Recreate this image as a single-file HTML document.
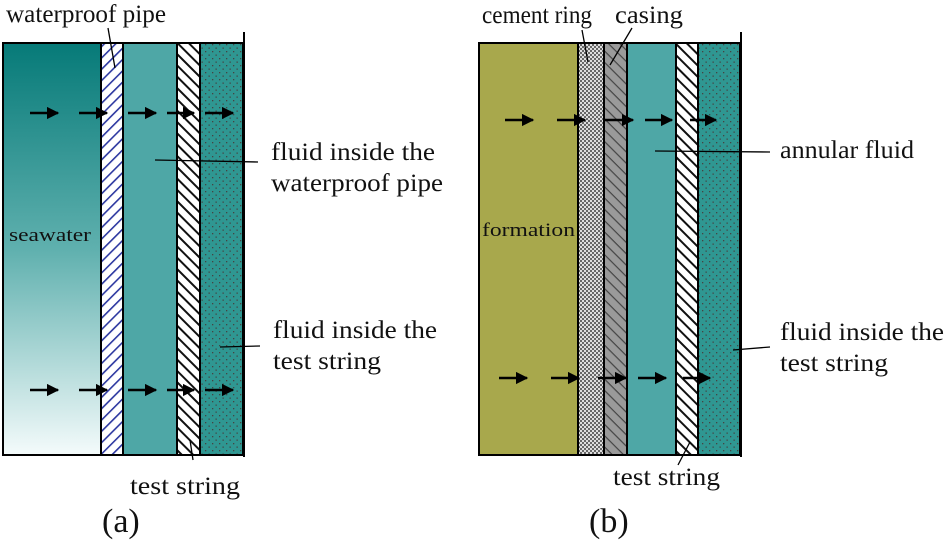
<!DOCTYPE html>
<html><head><meta charset="utf-8"><style>body{margin:0;background:#fff}svg{display:block}text{font-family:"Liberation Serif","Times New Roman",serif}</style></head><body>
<svg width="949" height="548" viewBox="0 0 949 548" xmlns="http://www.w3.org/2000/svg">
<defs>
<linearGradient id="sea" x1="0" y1="0" x2="0" y2="1"><stop offset="0" stop-color="#067a78"/><stop offset="0.5" stop-color="#5fb0ae"/><stop offset="1" stop-color="#f4fbfb"/></linearGradient>
<pattern id="bh" width="8" height="8" patternUnits="userSpaceOnUse" patternTransform="rotate(-45)"><rect width="8" height="8" fill="#fff"/><rect width="8" height="1.6" fill="#2c37a0"/></pattern>
<pattern id="kh" width="8" height="8" patternUnits="userSpaceOnUse" patternTransform="rotate(45)"><rect width="8" height="8" fill="#fff"/><rect width="8" height="2" fill="#111"/></pattern>
<pattern id="gh" width="8" height="8" patternUnits="userSpaceOnUse" patternTransform="rotate(45)"><rect width="8" height="8" fill="#9a9a9a"/><rect width="8" height="1.2" fill="#444"/></pattern>
<pattern id="ck" width="4" height="4" patternUnits="userSpaceOnUse"><rect width="4" height="4" fill="#ddd"/><rect width="2" height="2" fill="#666"/><rect x="2" y="2" width="2" height="2" fill="#666"/></pattern>
<pattern id="dt" width="7" height="7" patternUnits="userSpaceOnUse"><rect width="7" height="7" fill="#2f9792"/><rect x="2" y="2" width="1.3" height="1.3" fill="#444"/><rect x="5.5" y="5.5" width="1.3" height="1.3" fill="#444"/></pattern>
<marker id="ar" viewBox="0 0 10 10" refX="9" refY="5" markerWidth="5" markerHeight="5" markerUnits="strokeWidth" orient="auto"><path d="M0 0L10 5L0 10z" fill="#000"/></marker>
</defs>
<g stroke="#000" stroke-width="2">
<rect x="3" y="43" width="98" height="412" fill="url(#sea)"/>
<rect x="101" y="43" width="22" height="412" fill="url(#bh)"/>
<rect x="123" y="43" width="54" height="412" fill="#4ea7a6"/>
<rect x="177" y="43" width="23" height="412" fill="url(#kh)"/>
<rect x="200" y="43" width="43" height="412" fill="url(#dt)"/>
<line x1="244" y1="32" x2="244" y2="457"/>
<rect x="479" y="43" width="99" height="412" fill="#a8a84c"/>
<rect x="578" y="43" width="26" height="412" fill="url(#ck)"/>
<rect x="604" y="43" width="23" height="412" fill="url(#gh)"/>
<rect x="627" y="43" width="49" height="412" fill="#4ea7a6"/>
<rect x="676" y="43" width="22" height="412" fill="url(#kh)"/>
<rect x="698" y="43" width="42" height="412" fill="url(#dt)"/>
<line x1="741" y1="32" x2="741" y2="457"/>
</g>
<g stroke="#000" stroke-width="2.5" marker-end="url(#ar)">
<line x1="30" y1="113" x2="58" y2="113"/><line x1="79" y1="113" x2="107" y2="113"/><line x1="128" y1="113" x2="156" y2="113"/><line x1="167" y1="113" x2="194" y2="113"/><line x1="205" y1="113" x2="233" y2="113"/>
<line x1="30" y1="390" x2="58" y2="390"/><line x1="79" y1="390" x2="107" y2="390"/><line x1="128" y1="390" x2="156" y2="390"/><line x1="167" y1="390" x2="194" y2="390"/><line x1="205" y1="390" x2="233" y2="390"/>
<line x1="505" y1="120" x2="533" y2="120"/><line x1="557" y1="120" x2="585" y2="120"/><line x1="605" y1="120" x2="633" y2="120"/><line x1="645" y1="120" x2="672" y2="120"/><line x1="690" y1="120" x2="716" y2="120"/>
<line x1="499" y1="378" x2="527" y2="378"/><line x1="551" y1="378" x2="579" y2="378"/><line x1="598" y1="378" x2="626" y2="378"/><line x1="638" y1="378" x2="666" y2="378"/><line x1="683" y1="378" x2="710" y2="378"/>
</g>
<g stroke="#000" stroke-width="1.3">
<line x1="108" y1="28" x2="115" y2="68"/>
<line x1="155" y1="160" x2="258" y2="162"/>
<line x1="220" y1="347" x2="260" y2="346"/>
<line x1="190" y1="440" x2="193" y2="460"/>
<line x1="582" y1="30" x2="588" y2="62"/>
<line x1="632" y1="28" x2="610" y2="65"/>
<line x1="655" y1="151" x2="770" y2="152"/>
<line x1="733" y1="350" x2="770" y2="347"/>
<line x1="690" y1="442" x2="678" y2="465"/>
</g>
<g font-size="25" fill="#111">
<text x="6" y="22" textLength="160" lengthAdjust="spacingAndGlyphs">waterproof pipe</text>
<text x="271" y="160" textLength="164" lengthAdjust="spacingAndGlyphs">fluid inside the</text>
<text x="271" y="191" textLength="172" lengthAdjust="spacingAndGlyphs">waterproof pipe</text>
<text x="273" y="338" textLength="164" lengthAdjust="spacingAndGlyphs">fluid inside the</text>
<text x="273" y="369" textLength="108" lengthAdjust="spacingAndGlyphs">test string</text>
<text x="130" y="494" textLength="110" lengthAdjust="spacingAndGlyphs">test string</text>
<text x="482" y="23" textLength="110" lengthAdjust="spacingAndGlyphs">cement ring</text>
<text x="615" y="23" textLength="68" lengthAdjust="spacingAndGlyphs">casing</text>
<text x="780" y="158" textLength="134" lengthAdjust="spacingAndGlyphs">annular fluid</text>
<text x="780" y="340" textLength="164" lengthAdjust="spacingAndGlyphs">fluid inside the</text>
<text x="780" y="371" textLength="108" lengthAdjust="spacingAndGlyphs">test string</text>
<text x="613" y="485" textLength="107" lengthAdjust="spacingAndGlyphs">test string</text>
<text x="102" y="532" font-size="34">(a)</text>
<text x="589" y="532" font-size="34">(b)</text>
<text x="9" y="241" font-size="19" textLength="82" lengthAdjust="spacingAndGlyphs">seawater</text>
<text x="482" y="236" font-size="19" textLength="93" lengthAdjust="spacingAndGlyphs">formation</text>
</g>
</svg>
</body></html>
